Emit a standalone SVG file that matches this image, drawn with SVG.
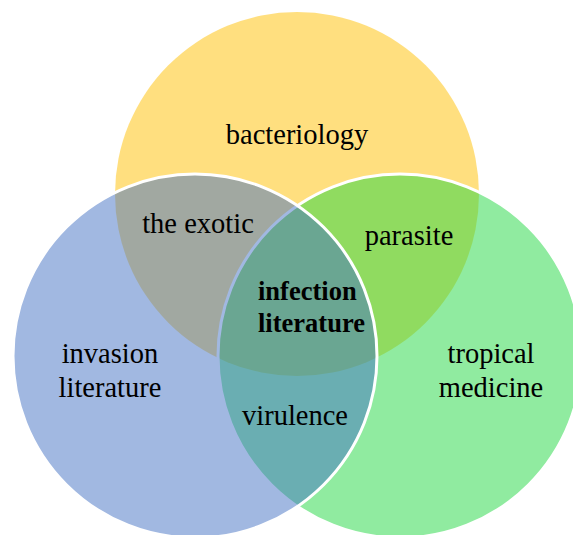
<svg xmlns="http://www.w3.org/2000/svg" width="573" height="535" viewBox="0 0 573 535">
<style>
.c{fill-opacity:0.5;stroke:#fff;stroke-width:3}
text{font-family:'Liberation Serif','DejaVu Serif',serif;fill:#000}
.t{font-size:28.5px;text-anchor:middle}
.b{font-size:26.5px;font-weight:bold}
</style>
<rect width="573" height="535" fill="#fff"/>
<g id="bacteriology">
<circle cx="297" cy="194" r="182" fill="#FFC000" fill-opacity="0.5"/>
</g>
<g id="tropical-medicine">
<circle class="c" cx="400" cy="356" r="182" fill="#21D741"/>
</g>
<g id="invasion-literature">
<circle class="c" cx="195" cy="356" r="182" fill="#4472C4"/>
</g>
<g id="labels">
<text class="t" x="297" y="144">bacteriology</text>
<text class="t" x="198" y="233">the exotic</text>
<text class="t" x="409" y="245">parasite</text>
<text class="t" x="110" y="363">invasion</text>
<text class="t" x="110" y="397">literature</text>
<text class="t" x="491" y="363">tropical</text>
<text class="t" x="491" y="397">medicine</text>
<text class="b" x="258" y="300">infection</text>
<text class="b" x="258" y="332">literature</text>
<text class="t" x="295" y="425">virulence</text>
</g>
</svg>
